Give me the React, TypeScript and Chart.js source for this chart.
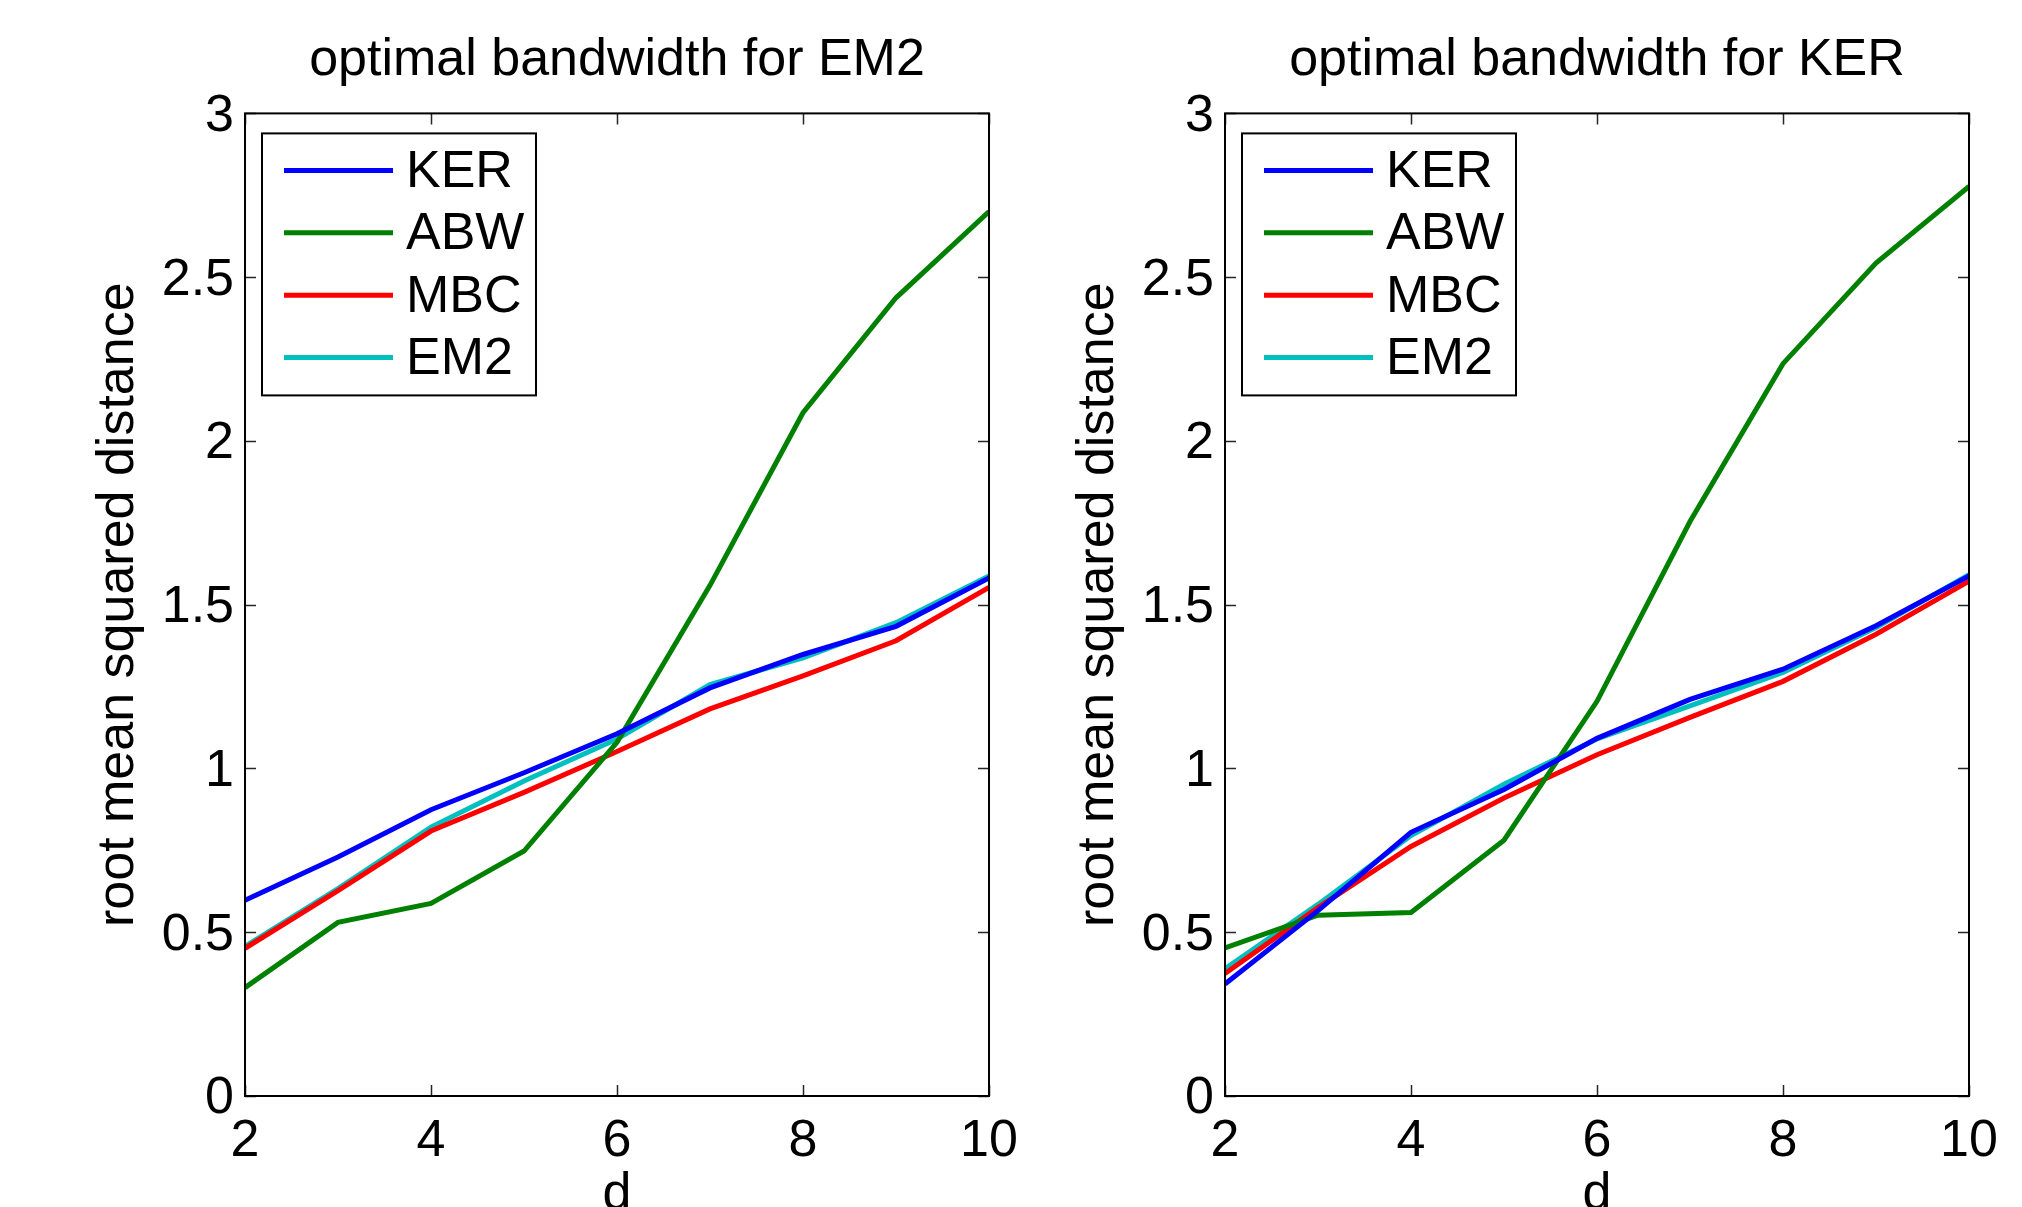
import React, { useEffect, useRef } from "react";
import { Chart, registerables } from "chart.js";

Chart.register(...registerables);

const dValues = [2, 3, 4, 5, 6, 7, 8, 9, 10];
const seriesNames = ["KER", "ABW", "MBC", "EM2"];
const seriesColors = ["#0000ff", "#008000", "#ff0000", "#00bfbf"];
const xTicks = [2, 4, 6, 8, 10];
const xTickLabels = ["2", "4", "6", "8", "10"];
const yTicks = [0, 0.5, 1, 1.5, 2, 2.5, 3];
const yTickLabels = ["0", "0.5", "1", "1.5", "2", "2.5", "3"];

// Panel 1: optimal bandwidth for EM2
const em2PanelKER = [0.598, 0.73, 0.874, 0.987, 1.106, 1.246, 1.348, 1.434, 1.582];
const em2PanelABW = [0.331, 0.53, 0.588, 0.748, 1.08, 1.559, 2.086, 2.437, 2.7];
const em2PanelMBC = [0.451, 0.627, 0.809, 0.927, 1.052, 1.182, 1.283, 1.39, 1.553];
const em2PanelEM2 = [0.457, 0.633, 0.821, 0.962, 1.09, 1.256, 1.338, 1.445, 1.588];

// Panel 2: optimal bandwidth for KER
const kerPanelKER = [0.342, 0.566, 0.805, 0.936, 1.092, 1.211, 1.303, 1.436, 1.588];
const kerPanelABW = [0.452, 0.552, 0.56, 0.781, 1.205, 1.754, 2.236, 2.543, 2.777];
const kerPanelMBC = [0.374, 0.575, 0.762, 0.91, 1.042, 1.156, 1.266, 1.41, 1.572];
const kerPanelEM2 = [0.388, 0.585, 0.795, 0.952, 1.09, 1.191, 1.293, 1.43, 1.592];

const FONT = "'Liberation Sans', Arial, Helvetica, sans-serif";
const FS = 52;

const framePlugin = {
  id: "matlabFrame",
  afterDatasetsDraw(chart: any) {
    const { ctx, chartArea: a, scales } = chart;
    ctx.save();
    // inward ticks on all four sides
    ctx.strokeStyle = "#262626";
    ctx.lineWidth = 1.5;
    const L = 11;
    ctx.beginPath();
    for (const v of xTicks) {
      const px = Math.round(scales.x.getPixelForValue(v)) + 0.5;
      ctx.moveTo(px, a.bottom);
      ctx.lineTo(px, a.bottom - L);
      ctx.moveTo(px, a.top);
      ctx.lineTo(px, a.top + L);
    }
    for (const v of yTicks) {
      const py = Math.round(scales.y.getPixelForValue(v)) + 0.5;
      ctx.moveTo(a.left, py);
      ctx.lineTo(a.left + L, py);
      ctx.moveTo(a.right, py);
      ctx.lineTo(a.right - L, py);
    }
    ctx.stroke();
    // box
    ctx.strokeStyle = "#000";
    ctx.lineWidth = 2;
    ctx.strokeRect(a.left, a.top, a.right - a.left, a.bottom - a.top);

    // legend
    const bx = a.left + 17;
    const by = a.top + 20;
    const bw = 274;
    const bh = 262;
    ctx.fillStyle = "#fff";
    ctx.fillRect(bx, by, bw, bh);
    ctx.lineWidth = 2;
    ctx.strokeStyle = "#000";
    ctx.strokeRect(bx, by, bw, bh);
    ctx.font = `${FS}px ${FONT}`;
    ctx.textBaseline = "middle";
    ctx.textAlign = "left";
    chart.data.datasets.forEach((ds: any, i: number) => {
      const y = by + 37 + i * 62.4;
      ctx.strokeStyle = ds.borderColor;
      ctx.lineWidth = 5;
      ctx.beginPath();
      ctx.moveTo(bx + 22, y);
      ctx.lineTo(bx + 131, y);
      ctx.stroke();
      ctx.fillStyle = "#000";
      ctx.fillText(ds.label, bx + 144, y + 2);
    });
    ctx.restore();
  },
};

function buildConfig(title: string, series: number[][]) {
  return {
    type: "line" as const,
    data: {
      datasets: series.map((vals, i) => ({
        label: seriesNames[i],
        data: dValues.map((d, j) => ({ x: d, y: vals[j] })),
        borderColor: seriesColors[i],
        backgroundColor: seriesColors[i],
        borderWidth: 5,
        pointRadius: 0,
        tension: 0,
        fill: false,
      })),
    },
    options: {
      responsive: false,
      animation: false as const,
      devicePixelRatio: 1,
      layout: { padding: { left: 0, right: 51, top: 0, bottom: 0 } },
      plugins: {
        legend: { display: false },
        tooltip: { enabled: false },
        title: {
          display: true,
          text: title,
          fullSize: false,
          color: "#000",
          font: { family: FONT, size: FS, weight: "normal" as const, lineHeight: 1.2 },
          padding: { top: 29, bottom: 22 },
        },
      },
      scales: {
        x: {
          type: "linear" as const,
          min: 2,
          max: 10,
          grid: { display: false },
          border: { display: false },
          afterBuildTicks: (s: any) => {
            s.ticks = xTicks.map((v) => ({ value: v }));
          },
          afterFit: (s: any) => {
            s.height = 111;
          },
          ticks: {
            color: "#000",
            padding: 6,
            maxRotation: 0,
            autoSkip: false,
            font: { family: FONT, size: FS, lineHeight: 1.2 },
            callback: (v: number) => xTickLabels[xTicks.indexOf(v)],
          },
          title: {
            display: true,
            text: "d",
            color: "#000",
            font: { family: FONT, size: FS, lineHeight: 1.2 },
            padding: { top: 0, bottom: -19 },
          },
        },
        y: {
          type: "linear" as const,
          min: 0,
          max: 3,
          grid: { display: false },
          border: { display: false },
          afterBuildTicks: (s: any) => {
            s.ticks = yTicks.map((v) => ({ value: v }));
          },
          afterFit: (s: any) => {
            s.width = 245;
          },
          ticks: {
            color: "#000",
            padding: 3,
            labelOffset: 3,
            autoSkip: false,
            font: { family: FONT, size: FS, lineHeight: 1.2 },
            callback: (v: number) => yTickLabels[yTicks.indexOf(v)],
          },
          title: {
            display: true,
            text: "root mean squared distance",
            color: "#000",
            font: { family: FONT, size: FS, lineHeight: 1.2 },
            padding: { top: 87, bottom: 0 },
          },
        },
      },
    },
    plugins: [framePlugin],
  };
}

function Panel({ title, series, left }: { title: string; series: number[][]; left: number }) {
  const ref = useRef<HTMLCanvasElement>(null);
  useEffect(() => {
    const chart = new Chart(ref.current as HTMLCanvasElement, buildConfig(title, series) as any);
    return () => chart.destroy();
  }, [title, series]);
  return (
    <canvas
      ref={ref}
      width={1040}
      height={1207}
      style={{ position: "absolute", left, top: 0, width: 1040, height: 1207 }}
    />
  );
}

const panel1 = [em2PanelKER, em2PanelABW, em2PanelMBC, em2PanelEM2];
const panel2 = [kerPanelKER, kerPanelABW, kerPanelMBC, kerPanelEM2];

export default function App() {
  return (
    <div
      style={{
        position: "absolute",
        left: 0,
        top: 0,
        width: 2022,
        height: 1207,
        overflow: "hidden",
        background: "#fff",
      }}
    >
      <Panel title="optimal bandwidth for EM2" series={panel1} left={0} />
      <Panel title="optimal bandwidth for KER" series={panel2} left={980} />
    </div>
  );
}
